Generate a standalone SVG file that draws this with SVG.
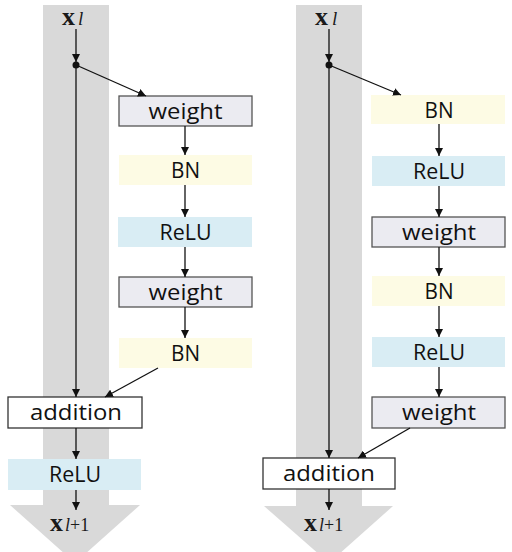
<svg xmlns="http://www.w3.org/2000/svg" width="512" height="552" viewBox="0 0 512 552">
<style>
.band{fill:#d9d9d9}
.weight{fill:#ebebf1;stroke:#555;stroke-width:1.3}
.bn{fill:#fdfbe4}
.relu{fill:#d9edf4}
.add{fill:#fff;stroke:#333;stroke-width:1.3}
.lbl{font-family:"Open Sans","Liberation Sans",sans-serif;font-size:22px;fill:#111;text-anchor:middle}
.xs{font-family:"Liberation Serif",serif;fill:#1a1a1a}
.conn line{stroke:#111;stroke-width:1.3;marker-end:url(#ah)}
</style>
<defs>
<marker id="ah" viewBox="0 0 10 10" refX="10" refY="5" markerWidth="8" markerHeight="8" markerUnits="userSpaceOnUse" orient="auto">
<path d="M0,0 L10,5 L0,10 z" fill="#111"/>
</marker>
</defs>
<rect width="512" height="552" fill="#fff"/>
<g id="bands">
<path class="band" d="M43,5 H109 V505 H140 L75,563 L10,505 H43 Z"/>
<path class="band" d="M296,5 H362 V506 H393 L329,563 L264,506 H296 Z"/>
</g>
<g id="left-xl"><text class="xs" y="25"><tspan x="62" font-size="26" font-weight="bold">x</tspan><tspan font-size="19" font-style="italic" dx="3">l</tspan></text></g>
<g id="left-weight1"><rect class="weight" x="119" y="96" width="133" height="30"/><text class="lbl" x="185.5" y="119" textLength="74" lengthAdjust="spacingAndGlyphs">weight</text></g>
<g id="left-bn1"><rect class="bn" x="119" y="155" width="133" height="30"/><text class="lbl" x="185.5" y="178" textLength="29" lengthAdjust="spacingAndGlyphs">BN</text></g>
<g id="left-relu1"><rect class="relu" x="118" y="217" width="134" height="30"/><text class="lbl" x="185.5" y="240" textLength="52" lengthAdjust="spacingAndGlyphs">ReLU</text></g>
<g id="left-weight2"><rect class="weight" x="119" y="277" width="133" height="30"/><text class="lbl" x="185.5" y="300" textLength="74" lengthAdjust="spacingAndGlyphs">weight</text></g>
<g id="left-bn2"><rect class="bn" x="119" y="338" width="133" height="30"/><text class="lbl" x="185.5" y="361" textLength="29" lengthAdjust="spacingAndGlyphs">BN</text></g>
<g id="left-addition"><rect class="add" x="8" y="397" width="134" height="31"/><text class="lbl" x="76" y="420" textLength="92" lengthAdjust="spacingAndGlyphs">addition</text></g>
<g id="left-relu2"><rect class="relu" x="8" y="459" width="133" height="31"/><text class="lbl" x="75" y="482" textLength="52" lengthAdjust="spacingAndGlyphs">ReLU</text></g>
<g id="left-xl1"><text class="xs" y="531"><tspan x="50" font-size="26" font-weight="bold">x</tspan><tspan font-size="18" font-style="italic" dx="2">l</tspan><tspan font-size="18">+1</tspan></text></g>

<g id="right-xl"><text class="xs" y="25"><tspan x="315" font-size="26" font-weight="bold">x</tspan><tspan font-size="19" font-style="italic" dx="4">l</tspan></text></g>
<g id="right-bn1"><rect class="bn" x="371" y="95" width="134" height="29"/><text class="lbl" x="439" y="118" textLength="29" lengthAdjust="spacingAndGlyphs">BN</text></g>
<g id="right-relu1"><rect class="relu" x="372" y="156" width="133" height="30"/><text class="lbl" x="439" y="179" textLength="52" lengthAdjust="spacingAndGlyphs">ReLU</text></g>
<g id="right-weight1"><rect class="weight" x="372" y="217" width="133" height="30"/><text class="lbl" x="439" y="240" textLength="74" lengthAdjust="spacingAndGlyphs">weight</text></g>
<g id="right-bn2"><rect class="bn" x="372" y="276" width="133" height="30"/><text class="lbl" x="439" y="299" textLength="29" lengthAdjust="spacingAndGlyphs">BN</text></g>
<g id="right-relu2"><rect class="relu" x="372" y="337" width="133" height="30"/><text class="lbl" x="439" y="360" textLength="52" lengthAdjust="spacingAndGlyphs">ReLU</text></g>
<g id="right-weight2"><rect class="weight" x="372" y="397" width="133" height="31"/><text class="lbl" x="439" y="420" textLength="74" lengthAdjust="spacingAndGlyphs">weight</text></g>
<g id="right-addition"><rect class="add" x="263" y="458" width="132" height="31"/><text class="lbl" x="329" y="481" textLength="92" lengthAdjust="spacingAndGlyphs">addition</text></g>
<g id="right-xl1"><text class="xs" y="531"><tspan x="304" font-size="26" font-weight="bold">x</tspan><tspan font-size="18" font-style="italic" dx="2">l</tspan><tspan font-size="18">+1</tspan></text></g>

<g id="connectors" class="conn">
<line x1="76" y1="29" x2="76" y2="62"/>
<line x1="76" y1="65" x2="146" y2="96"/>
<line x1="185" y1="126" x2="185" y2="155"/>
<line x1="185" y1="185" x2="185" y2="217"/>
<line x1="185" y1="247" x2="185" y2="277"/>
<line x1="185" y1="307" x2="185" y2="338"/>
<line x1="158" y1="368" x2="105" y2="397"/>
<line x1="76" y1="65" x2="76" y2="397"/>
<line x1="76" y1="428" x2="76" y2="459"/>
<line x1="76" y1="490" x2="76" y2="510"/>
<line x1="329" y1="29" x2="329" y2="62"/>
<line x1="329" y1="65" x2="401" y2="95"/>
<line x1="439" y1="124" x2="439" y2="156"/>
<line x1="439" y1="186" x2="439" y2="217"/>
<line x1="439" y1="247" x2="439" y2="276"/>
<line x1="439" y1="306" x2="439" y2="337"/>
<line x1="439" y1="367" x2="439" y2="397"/>
<line x1="410" y1="428" x2="358" y2="458"/>
<line x1="329" y1="65" x2="329" y2="458"/>
<line x1="329" y1="489" x2="329" y2="510"/>
<circle cx="76" cy="65" r="3.5" fill="#111"/>
<circle cx="329" cy="65" r="3.5" fill="#111"/>
</g>
</svg>
